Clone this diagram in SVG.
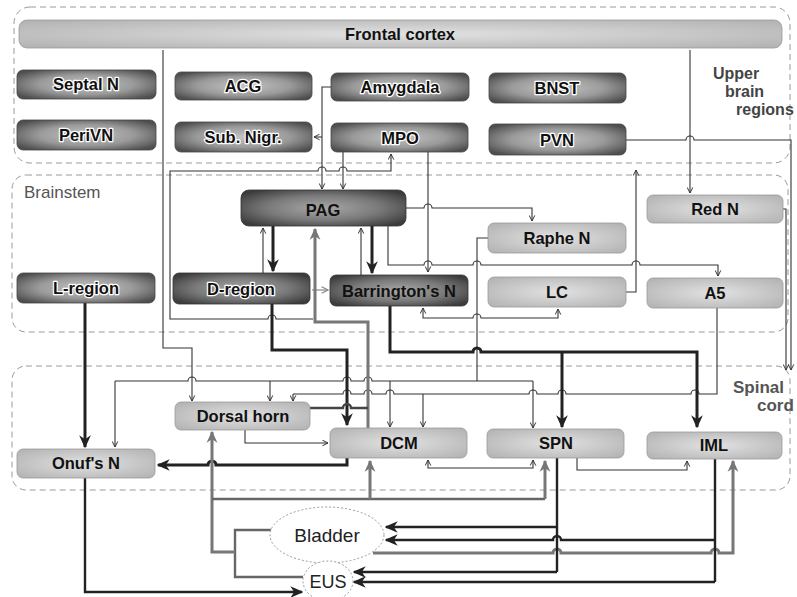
<svg xmlns="http://www.w3.org/2000/svg" width="797" height="597" viewBox="0 0 797 597">
<defs>
<radialGradient id="gd" cx="50%" cy="50%" r="62%">
<stop offset="0" stop-color="#c4c4c4"/><stop offset="0.55" stop-color="#9a9a9a"/><stop offset="1" stop-color="#4e4e4e"/>
</radialGradient>
<radialGradient id="gk" cx="50%" cy="50%" r="62%">
<stop offset="0" stop-color="#a8a8a8"/><stop offset="0.55" stop-color="#7a7a7a"/><stop offset="1" stop-color="#3c3c3c"/>
</radialGradient>
<radialGradient id="gl" cx="50%" cy="50%" r="65%">
<stop offset="0" stop-color="#e2e2e2"/><stop offset="1" stop-color="#b4b4b4"/>
</radialGradient>
<marker id="at" viewBox="0 0 10 10" refX="9" refY="5" markerWidth="7" markerHeight="7" markerUnits="userSpaceOnUse" orient="auto-start-reverse">
<path d="M1,1 L9,5 L1,9" fill="none" stroke="#333" stroke-width="1.4"/>
</marker>
<marker id="ak" viewBox="0 0 10 10" refX="9" refY="5" markerWidth="13" markerHeight="13" markerUnits="userSpaceOnUse" orient="auto">
<path d="M0,0.5 L10,5 L0,9.5 L3,5 z" fill="#222"/>
</marker>
<marker id="ag" viewBox="0 0 10 10" refX="9" refY="5" markerWidth="12" markerHeight="12" markerUnits="userSpaceOnUse" orient="auto">
<path d="M0,0.5 L10,5 L0,9.5 L3,5 z" fill="#777"/>
</marker>
<marker id="agl" viewBox="0 0 10 10" refX="9" refY="5" markerWidth="8" markerHeight="8" markerUnits="userSpaceOnUse" orient="auto">
<path d="M1,1 L9,5 L1,9" fill="none" stroke="#888" stroke-width="1.4"/>
</marker>
</defs>
<style>
.reg{fill:none;stroke:#9a9a9a;stroke-width:1;stroke-dasharray:6 4}
.dk rect{fill:url(#gd);stroke:#444;stroke-width:0.8}
.dk2 rect{fill:url(#gk);stroke:#333;stroke-width:0.8}
.lt rect{fill:url(#gl);stroke:#9a9a9a;stroke-width:0.8}
text{font-family:"Liberation Sans",Arial,sans-serif}
.nt{font-size:16.5px;font-weight:bold;text-anchor:middle;fill:#111}
.halo{stroke:#fff;stroke-width:2.5;paint-order:stroke;stroke-linejoin:round}
.lab{font-size:17px;fill:#555}
.ub{font-size:16px;font-weight:bold;fill:#444}
.t{fill:none;stroke:#333;stroke-width:1.1;marker-end:url(#at)}
.tn{fill:none;stroke:#333;stroke-width:1.1}
.k{fill:none;stroke:#222;stroke-width:3;marker-end:url(#ak)}
.k2{fill:none;stroke:#222;stroke-width:2.4;marker-end:url(#ak)}
.kn{fill:none;stroke:#222;stroke-width:2.4}
.g{fill:none;stroke:#777;stroke-width:3;marker-end:url(#ag)}
.gn{fill:none;stroke:#666;stroke-width:2.4}
.organ{fill:#fff;stroke:#999;stroke-width:1;stroke-dasharray:2 2}
</style>

<g id="regions">
<rect class="reg" x="14" y="7" width="776" height="156" rx="16"/>
<rect class="reg" x="12" y="175" width="776" height="157" rx="14"/>
<rect class="reg" x="12" y="366" width="778" height="124" rx="14"/>
<text class="lab" x="24" y="198">Brainstem</text>
<text class="ub" x="713" y="79">Upper</text>
<text class="ub" x="725" y="97">brain</text>
<text class="ub" x="736" y="115">regions</text>
<text class="lab" x="733" y="393" font-weight="bold">Spinal</text>
<text class="lab" x="757" y="411" font-weight="bold">cord</text>
</g>

<g id="connectors">
<path class="t" d="M163,50 V348 H192 V401"/>
<path class="t" d="M690,50 V193"/>
<path class="t" d="M626,140 H686 a4,4 0 0 1 8,0 H791 V370"/>
<path class="t" d="M331,87 H322 V189"/>
<path class="t" d="M322,137 H314"/>
<path class="t" d="M343,152 V189"/>
<path class="t" d="M313,319 H276 a4,4 0 0 0 -8,0 H170 V171 H318 a4,4 0 0 1 8,0 H339 a4,4 0 0 1 8,0 H391 V154"/>
<path class="t" d="M428,152 V272"/>
<path class="t" d="M406,208 H424 a4,4 0 0 1 8,0 H532 V221"/>
<path class="t" d="M388,226 V265 H424 a4,4 0 0 1 8,0 H473 a4,4 0 0 1 8,0 H632 a4,4 0 0 1 8,0 H718 V276"/>
<path class="k" d="M273,226 V271"/>
<path class="t" d="M263,273 V228"/>
<path class="k" d="M372,226 V273"/>
<path class="t" d="M361,275 V228"/>
<path d="M312,290 H328" fill="none" stroke="#888" stroke-width="1.2" marker-end="url(#agl)"/>
<path class="t" d="M626,292 H636 V170"/>
<path class="t" d="M423,308 V318 H473 a4,4 0 0 1 8,0 H558 V309" marker-start="url(#at)"/>
<path class="t" d="M783,209 H786 V370"/>
<path class="tn" d="M488,238 H477 V381"/>
<path class="tn" d="M533,381 H372 a4,4 0 0 0 -8,0 H351 a4,4 0 0 0 -8,0 H196 a4,4 0 0 0 -8,0 H115"/>
<path class="t" d="M115,381 V447"/>
<path class="t" d="M270,381 V401"/>
<path class="t" d="M390,381 V427"/>
<path class="t" d="M533,381 V428"/>
<path class="tn" d="M717,308 V394 H699 a4,4 0 0 0 -8,0 H566 a4,4 0 0 0 -8,0 H537 a4,4 0 0 0 -8,0 H394 a4,4 0 0 0 -8,0 H372 a4,4 0 0 0 -8,0 H351 a4,4 0 0 0 -8,0 H293"/>
<path class="t" d="M293,394 V401"/>
<path class="t" d="M423,394 V427"/>
<path class="k" d="M85,303 V447"/>
<path class="k" d="M272,304 V350 H347 V425"/>
<path class="k" d="M390,306 V352 H473 a4,4 0 0 1 8,0 H697 V427"/>
<path class="k" d="M562,352 V427"/>
<path class="g" d="M368,428 V322 H315 V229"/>
<path class="gn" d="M310,408 H343 a4,4 0 0 1 8,0 H368" style="stroke:#444"/>
<path class="k" d="M347,458 V465 H216 a4,4 0 0 0 -8,0 H158"/>
<path class="t" d="M245,430 V443 H328"/>
<path class="t" d="M428,460 V468 H533 V460" marker-start="url(#at)"/>
<path class="t" d="M577,458 V470 H687 V461"/>
<path class="gn" d="M272,530 H235 V577 H303"/>
<path class="g" d="M235,552 H212 V432"/>
<path class="gn" d="M212,499 H545"/>
<path class="g" d="M545,499 V461"/>
<path class="g" d="M370,499 V461"/>
<path class="g" d="M373,553 H553 a4,4 0 0 1 8,0 H711 a4,4 0 0 1 8,0 H733 V461"/>
<path class="kn" d="M557,458 V572"/>
<path class="kn" d="M715,459 V582"/>
<path class="k2" d="M557,527 H386"/>
<path class="k2" d="M715,540 H561 a4,4 0 0 0 -8,0 H386"/>
<path class="k2" d="M557,572 H354"/>
<path class="k2" d="M715,582 H354"/>
<path class="k2" d="M85,478 V592 H302"/>
</g>

<g id="frontal-cortex" class="lt"><rect x="19" y="20" width="763" height="28" rx="8"/><text class="nt" x="400" y="40" font-size="17">Frontal cortex</text></g>
<g id="septal-n" class="dk"><rect x="17" y="70" width="139" height="29" rx="6"/><text class="nt halo" x="86" y="90">Septal N</text></g>
<g id="perivn" class="dk"><rect x="17" y="120" width="139" height="30" rx="6"/><text class="nt halo" x="86" y="141">PeriVN</text></g>
<g id="acg" class="dk"><rect x="175" y="72" width="137" height="28" rx="6"/><text class="nt halo" x="243" y="92">ACG</text></g>
<g id="sub-nigr" class="dk"><rect x="175" y="122" width="137" height="30" rx="6"/><text class="nt halo" x="243" y="143">Sub. Nigr.</text></g>
<g id="amygdala" class="dk"><rect x="331" y="73" width="138" height="28" rx="6"/><text class="nt halo" x="400" y="93">Amygdala</text></g>
<g id="mpo" class="dk"><rect x="331" y="123" width="137" height="29" rx="6"/><text class="nt halo" x="400" y="144">MPO</text></g>
<g id="bnst" class="dk"><rect x="489" y="73" width="137" height="30" rx="6"/><text class="nt halo" x="557" y="94">BNST</text></g>
<g id="pvn" class="dk"><rect x="489" y="124" width="137" height="31" rx="6"/><text class="nt halo" x="557" y="146">PVN</text></g>

<g id="pag" class="dk2"><rect x="241" y="190" width="165" height="36" rx="8"/><text class="nt" x="323" y="216" font-size="21">PAG</text></g>
<g id="d-region" class="dk2"><rect x="173" y="273" width="137" height="31" rx="6"/><text class="nt halo" x="241" y="295">D-region</text></g>
<g id="barrington" class="dk2"><rect x="330" y="275" width="138" height="31" rx="6"/><text class="nt" x="399" y="297">Barrington's N</text></g>
<g id="l-region" class="dk"><rect x="17" y="273" width="138" height="30" rx="6"/><text class="nt halo" x="86" y="294">L-region</text></g>
<g id="raphe-n" class="lt"><rect x="488" y="223" width="138" height="30" rx="6"/><text class="nt" x="557" y="244">Raphe N</text></g>
<g id="lc" class="lt"><rect x="488" y="277" width="138" height="30" rx="6"/><text class="nt" x="557" y="298">LC</text></g>
<g id="red-n" class="lt"><rect x="647" y="195" width="136" height="28" rx="6"/><text class="nt" x="715" y="215">Red N</text></g>
<g id="a5" class="lt"><rect x="647" y="278" width="136" height="30" rx="6"/><text class="nt" x="715" y="299">A5</text></g>

<g id="dorsal-horn" class="lt"><rect x="175" y="402" width="135" height="28" rx="6"/><text class="nt" x="243" y="422">Dorsal horn</text></g>
<g id="dcm" class="lt"><rect x="330" y="428" width="137" height="30" rx="6"/><text class="nt" x="399" y="449">DCM</text></g>
<g id="spn" class="lt"><rect x="487" y="429" width="137" height="29" rx="6"/><text class="nt" x="556" y="449">SPN</text></g>
<g id="iml" class="lt"><rect x="647" y="432" width="135" height="27" rx="6"/><text class="nt" x="714" y="451">IML</text></g>
<g id="onufs-n" class="lt"><rect x="17" y="449" width="138" height="29" rx="6"/><text class="nt" x="86" y="469">Onuf's N</text></g>

<g id="bladder"><ellipse class="organ" cx="327" cy="535" rx="57" ry="28"/><text x="327" y="542" font-size="19" text-anchor="middle" fill="#222">Bladder</text></g>
<g id="eus"><ellipse class="organ" cx="328" cy="581" rx="25" ry="20"/><text x="328" y="588" font-size="18" text-anchor="middle" fill="#222">EUS</text></g>
</svg>
